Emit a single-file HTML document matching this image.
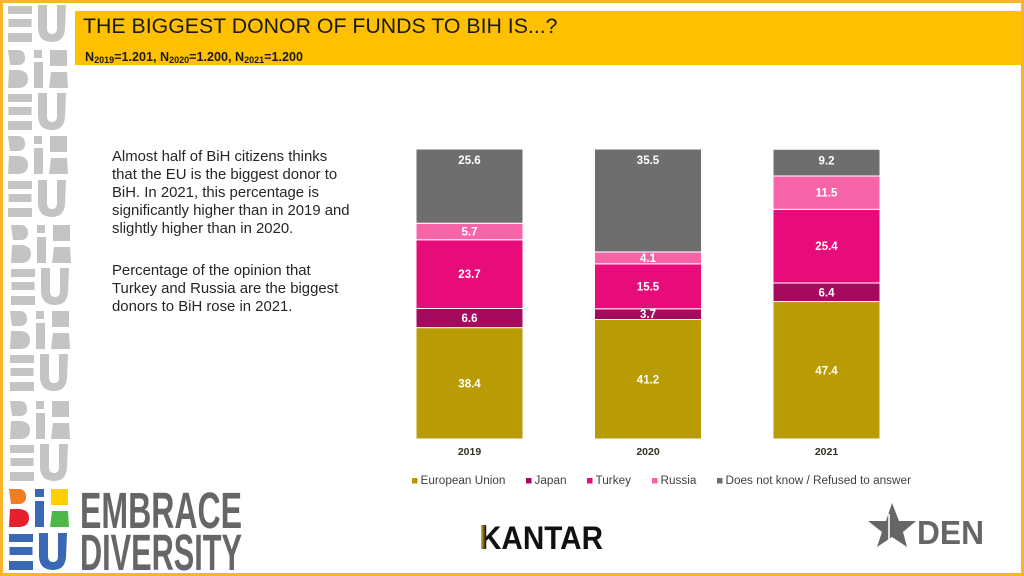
<!DOCTYPE html>
<html lang="en">
<head>
<meta charset="utf-8">
<title>The biggest donor of funds to BiH</title>
<style>
html,body{margin:0;padding:0;background:#fff;width:1024px;height:576px;overflow:hidden}
svg{display:block;font-family:"Liberation Sans",sans-serif}
</style>
</head>
<body>
<svg id="slide" xmlns="http://www.w3.org/2000/svg" width="1024" height="576" viewBox="0 0 1024 576">
  <defs>
    <g id="eu-mark">
      <rect x="0" y="1" width="24" height="8"/><rect x="0.5" y="14" width="23" height="8"/><rect x="0" y="28" width="24" height="9"/>
      <path d="M30 0H39V23Q39 29 44 29Q49 29 49 23V0H58L57 24Q56 37 44 37Q31 37 30 24Z"/>
    </g>
    <g id="bih-mark">
      <path d="M0 0H11Q17 1 17 8Q17 14 11 15H2Z"/><path d="M1 20H11Q20 21 20 29Q20 37 11 38H0Z"/>
      <rect x="26" y="0" width="8" height="8"/><rect x="26" y="12" width="9" height="26"/>
      <rect x="42" y="0" width="17" height="16"/><path d="M43 22H59L60 38H41Z"/>
    </g>
    <linearGradient id="kantar-gold" x1="0" x2="1" y1="0" y2="0"><stop offset="0" stop-color="#e8b520"/><stop offset="1" stop-color="#111"/></linearGradient>
  </defs>

  <rect x="1.5" y="1.5" width="1021" height="573" fill="#fff" stroke="#f9b52a" stroke-width="3"/>
  <rect x="75" y="11" width="946" height="54" fill="#ffc000"/>
  <text x="83" y="33" font-size="21.3" fill="#1a1a1a">THE BIGGEST DONOR OF FUNDS TO BIH IS...?</text>
  <text x="85" y="61" font-size="12.6" font-weight="bold" fill="#1a1a1a">N<tspan font-size="9" dy="2">2019</tspan><tspan dy="-2">=1.201, N</tspan><tspan font-size="9" dy="2">2020</tspan><tspan dy="-2">=1.200, N</tspan><tspan font-size="9" dy="2">2021</tspan><tspan dy="-2">=1.200</tspan></text>

  <g fill="#c4c4c4">
    <use href="#eu-mark" x="8" y="5"/><use href="#bih-mark" x="8" y="50"/>
    <use href="#eu-mark" x="8" y="93"/><use href="#bih-mark" x="8" y="136"/>
    <use href="#eu-mark" x="8" y="180"/><use href="#bih-mark" x="11" y="225"/>
    <use href="#eu-mark" x="11" y="268"/><use href="#bih-mark" x="10" y="311"/>
    <use href="#eu-mark" x="10" y="354"/><use href="#bih-mark" x="10" y="401"/>
    <use href="#eu-mark" x="10" y="444"/>
  </g>

  <g transform="translate(9,489)">
    <path d="M0 0H11Q17 1 17 8Q17 14 11 15H2Z" fill="#f07d22"/><path d="M1 20H11Q20 21 20 29Q20 37 11 38H0Z" fill="#e6202c"/>
    <rect x="26" y="0" width="9" height="8" fill="#3a68b4"/><rect x="26" y="12" width="9" height="26" fill="#3a68b4"/>
    <rect x="42" y="0" width="17" height="16" fill="#fdd000"/><path d="M43 22H59L60 38H41Z" fill="#4cb848"/>
    <use href="#eu-mark" y="44" fill="#3a68b4"/>
  </g>
  <text x="80" y="528" font-size="51" font-weight="bold" fill="#666" textLength="162" lengthAdjust="spacingAndGlyphs">EMBRACE</text>
  <text x="80" y="570" font-size="51" font-weight="bold" fill="#666" textLength="162" lengthAdjust="spacingAndGlyphs">DIVERSITY</text>

  <g font-size="14.9" fill="#262626">
    <text x="112" y="161">Almost half of BiH citizens thinks</text>
    <text x="112" y="179">that the EU is the biggest donor to</text>
    <text x="112" y="197">BiH. In 2021, this percentage is</text>
    <text x="112" y="215">significantly higher than in 2019 and</text>
    <text x="112" y="233">slightly higher than in 2020.</text>
    <text x="112" y="275">Percentage of the opinion that</text>
    <text x="112" y="293">Turkey and Russia are the biggest</text>
    <text x="112" y="311">donors to BiH rose in 2021.</text>
  </g>

  <g id="chart"></g>
  <g id="legend" font-size="11.75" fill="#404040"></g>

  <g>
    <text x="480" y="549" font-size="32.5" font-weight="bold" fill="#111" textLength="123" lengthAdjust="spacingAndGlyphs">KANTAR</text>
    <rect x="481" y="525" width="5" height="24" fill="url(#kantar-gold)"/>
  </g>
  <g fill="#666">
    <polygon points="892,503 899,521 916,521 903,532 907,547 892,537 877,547 882,532 868,521 886,521"/>
    <path d="M889 514L889 540" stroke="#fff" stroke-width="1.6" fill="none"/>
    <text x="917" y="544" font-size="33" font-weight="bold" textLength="67" lengthAdjust="spacingAndGlyphs">DEN</text>
  </g>

<script>
var years = ['2019', '2020', '2021'];
var seriesNames = ['European Union', 'Japan', 'Turkey', 'Russia', 'Does not know / Refused to answer'];
var europeanUnion = [38.4, 41.2, 47.4];
var japan = [6.6, 3.7, 6.4];
var turkey = [23.7, 15.5, 25.4];
var russia = [5.7, 4.1, 11.5];
var doesNotKnow = [25.6, 35.5, 9.2];

var seriesValues = [europeanUnion, japan, turkey, russia, doesNotKnow];
var seriesColors = ['#b89b05', '#a50a5e', '#e80c7a', '#f765a8', '#6e6e6e'];
var seriesSlugs = ['european-union', 'japan', 'turkey', 'russia', 'does-not-know'];
var legendSwatchX = [412, 526, 587, 652, 717];

var SVGNS = 'http://www.w3.org/2000/svg';
var plotLeft = 416, plotStep = 178.5, barWidth = 107, plotBottom = 439, plotHeight = 290;

function xPos(i) { return plotLeft + i * plotStep; }
function yPos(v) { return plotBottom - v / 100 * plotHeight; }

var chart = document.getElementById('chart');
var legend = document.getElementById('legend');

function make(tag, attrs, parent) {
  var el = document.createElementNS(SVGNS, tag);
  for (var k in attrs) { el.setAttribute(k, attrs[k]); }
  parent.appendChild(el);
  return el;
}

years.forEach(function (year, i) {
  var cum = 0;
  seriesValues.forEach(function (vals, s) {
    var v = vals[i];
    var top = yPos(cum + v), bot = yPos(cum);
    var bar = make('rect', { x: xPos(i), y: top, width: barWidth, height: bot - top, fill: seriesColors[s], stroke: '#fff', 'stroke-width': 1 }, chart);
    
    
    var isTop = s === seriesValues.length - 1;
    var cy = isTop ? top + 11 : (top + bot) / 2;
    var label = make('text', { x: xPos(i) + barWidth / 2, y: cy + 4, 'text-anchor': 'middle', 'font-size': 11.5, 'font-weight': 'bold', fill: '#fff' }, chart);
    label.textContent = v.toFixed(1);
    
    
    cum += v;
  });
  var tick = make('text', { x: xPos(i) + barWidth / 2, y: 455, 'text-anchor': 'middle', 'font-size': 10.5, 'font-weight': 'bold', fill: '#33331f' }, chart);
  tick.textContent = year;
  
  
});

seriesNames.forEach(function (name, s) {
  var swatch = make('rect', { x: legendSwatchX[s], y: 478, width: 5.5, height: 5.5, fill: seriesColors[s] }, legend);
  
  
  var text = make('text', { x: legendSwatchX[s] + 8.5, y: 484 }, legend);
  text.textContent = name;
  
  
});
</script>
</svg>
</body>
</html>
